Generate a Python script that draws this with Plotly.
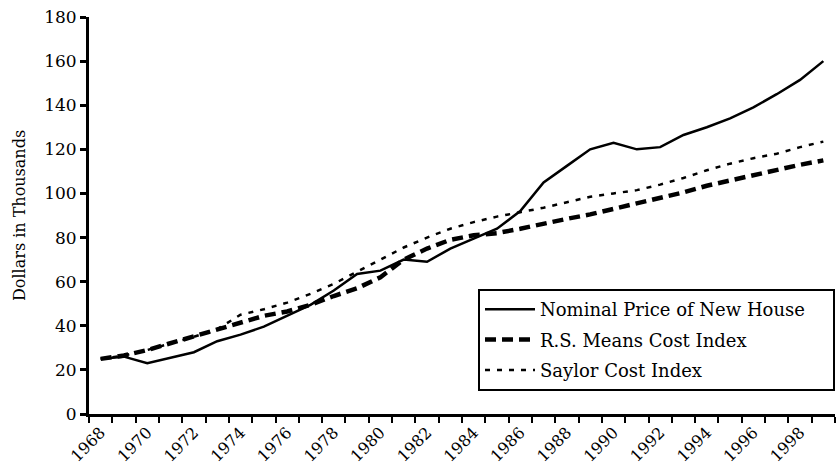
import plotly.graph_objects as go

years = list(range(1968, 2000))
nominal_price = [25, 26, 23, 25.5, 28, 33, 36, 39.6, 44.5, 49.5, 56, 63.5, 65, 70, 69, 75,
                 79.5, 84, 92, 105, 112.5, 120, 123, 120, 121, 126.5, 130, 134, 139, 145, 151.5, 160]
rs_means = [25, 26.5, 29, 32, 35, 38, 41.5, 44.5, 46.5, 49.5, 53.5, 57, 62, 70, 75, 79,
            81, 82, 84, 86.5, 88.5, 90.5, 93, 95.5, 97.5, 100.5, 103.5, 106, 108.5, 111, 113, 115]
saylor = [25, 26.5, 29, 32, 35, 38.5, 45, 47.5, 50.5, 54.5, 59, 64.5, 70, 75.5, 80, 84,
          87, 89.5, 91.5, 93.5, 96, 98.5, 100, 101.5, 104, 107, 110.5, 113.5, 116, 118, 121, 123.5]
tick_years = list(range(1968, 1999, 2))
y_ticks = list(range(0, 181, 20))
series_names = ["Nominal Price of New House", "R.S. Means Cost Index", "Saylor Cost Index"]

FONT = "DejaVu Serif"
PAD = "\u00a0" * 4  # invisible right padding inside the legend frame

fig = go.Figure()
fig.add_trace(go.Scatter(x=years, y=nominal_price, mode="lines", name=series_names[0] + PAD,
                         legendgroup="a", line=dict(color="black", width=2.5)))
fig.add_trace(go.Scatter(x=years, y=rs_means, mode="lines", name=series_names[1],
                         legendgroup="b", line=dict(color="black", width=4.5, dash="11px,6px")))
fig.add_trace(go.Scatter(x=years, y=saylor, mode="lines", name=series_names[2],
                         legendgroup="c", line=dict(color="black", width=2.5, dash="5px,7px")))

fig.update_layout(
    width=838, height=468,
    margin=dict(l=89, r=3, t=17, b=54, autoexpand=False),
    paper_bgcolor="white", plot_bgcolor="white",
    font=dict(family=FONT, size=16, color="black"),
    showlegend=True,
    legend=dict(x=1, y=0.058, xanchor="right", yanchor="bottom",
                bgcolor="white", bordercolor="black", borderwidth=2,
                font=dict(family=FONT, size=18, color="black"),
                tracegroupgap=4, itemwidth=50),
    xaxis=dict(range=[1967.5, 1999.5], tickvals=tick_years, ticktext=[str(y) for y in tick_years],
               tickangle=-45, ticks="", showgrid=False, zeroline=False, automargin=False,
               showline=True, linecolor="black", linewidth=3,
               tickfont=dict(family=FONT, size=16, color="black"),
               minor=dict(tick0=1967.5, dtick=1, ticks="outside", ticklen=6, tickwidth=2,
                          tickcolor="black", showgrid=False)),
    yaxis=dict(range=[0, 180], tickvals=y_ticks, ticks="outside", ticklen=6, tickwidth=2.5,
               tickcolor="black", showgrid=False, zeroline=False, automargin=False,
               showline=True, linecolor="black", linewidth=3,
               tickfont=dict(family=FONT, size=17, color="black")),
    annotations=[dict(text="Dollars in Thousands", textangle=-90, showarrow=False,
                      xref="paper", yref="paper", x=(20 - 89) / 746, y=(414 - 216) / 397,
                      xanchor="center", yanchor="middle",
                      font=dict(family=FONT, size=16, color="black"))],
)

fig.write_html("out.html", config={"displayModeBar": False},
               post_script="document.body.style.margin='0';document.body.style.padding='0';")
